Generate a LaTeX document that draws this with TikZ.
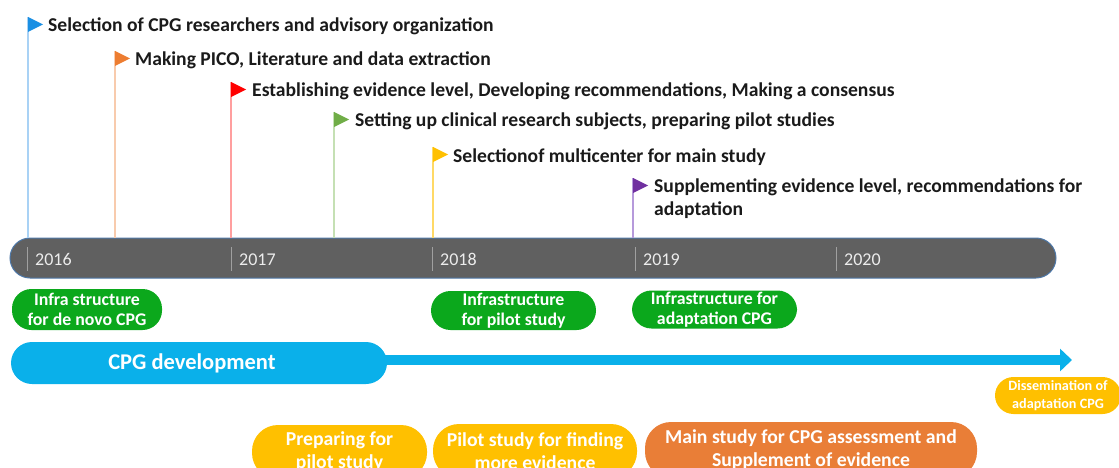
\documentclass[tikz,border=0pt]{standalone}
\usepackage{fontspec}
\setmainfont{Carlito}
\usetikzlibrary{arrows.meta}

\definecolor{ink}{HTML}{1A1A1A}
\definecolor{barfill}{HTML}{606060}
\definecolor{baredge}{HTML}{4E78A8}
\definecolor{tickgray}{HTML}{A0A0A0}
\definecolor{yeartext}{HTML}{ECECEC}
\definecolor{fblue}{HTML}{1A8FE3}
\definecolor{forange}{HTML}{ED7D31}
\definecolor{fred}{HTML}{FF0000}
\definecolor{fgreen}{HTML}{70AD47}
\definecolor{fyellow}{HTML}{FFC000}
\definecolor{fpurple}{HTML}{7030A0}
\definecolor{pblue}{HTML}{A9D2F5}
\definecolor{porange}{HTML}{F8CBAD}
\definecolor{pred}{HTML}{FF9F9F}
\definecolor{pgreen}{HTML}{C5E0B4}
\definecolor{pyellow}{HTML}{FFD966}
\definecolor{ppurple}{HTML}{B69ADB}
\definecolor{boxgreen}{HTML}{0BA81C}
\definecolor{cpgblue}{HTML}{0AB0EA}
\definecolor{boxorange}{HTML}{E97E37}

\begin{document}
\begin{tikzpicture}[x=1pt,y=-1pt,
  flagtext/.style={anchor=base west, inner sep=0pt, text=ink,
    font=\bfseries\fontsize{19.6}{22}\selectfont},
  pole/.style={line width=1.2pt},
  tick/.style={draw=tickgray, line width=0.9pt},
  yearlabel/.style={anchor=base west, inner sep=0pt, text=yeartext,
    font=\fontsize{18}{22}\selectfont},
  pill/.style={rounded corners=#1, align=center, text=white, inner sep=0pt},
  pill/.default=20pt,
  smallpill/.style={pill=19.5pt, font=\bfseries\fontsize{17.8}{19.5}\selectfont},
  bigpill/.style={pill=26pt, font=\bfseries\fontsize{19.7}{23}\selectfont}]

\useasboundingbox (0,0) rectangle (1119,468);
\clip (0,0) rectangle (1119,468);

% year bar
\node[pill, fill=barfill, draw=baredge, line width=1pt,
      minimum width=1046, minimum height=40] (bar) at (533,258) {};

\foreach \x/\yr in {27/2016, 231/2017, 432/2018, 635/2019, 836/2020}{
  \coordinate (t\yr) at (\x,247);
  \draw[tick] (t\yr) -- ++(0,24);
  \node[yearlabel] (y\yr) at (\x+8,265) {\yr};
}

% milestone flags: pole, pennant, caption
\foreach \name/\x/\b/\fc/\pc in {
    fa/28/32/fblue/pblue, fb/115/66/forange/porange, fc/231/97/fred/pred,
    fd/334/127/fgreen/pgreen, fe/433/162/fyellow/pyellow, ff/633/193/fpurple/ppurple}{
  \coordinate (\name) at (\x,\b-15);
  \draw[pole, draw=\pc] (\name) -- (\name |- bar.north);
  \fill[\fc] (\name) -- ++(15,7.5) -- ++(-15,7.5) -- cycle;
}

\node[flagtext] (ta) at (48,32) {Selection of CPG researchers and advisory organization};
\node[flagtext] (tb) at (135,66) {Making PICO, Literature and data extraction};
\node[flagtext] (tc) at (252,97) {Establishing evidence level, Developing recommendations, Making a consensus};
\node[flagtext] (td) at (355,127) {Setting up clinical research subjects, preparing pilot studies};
\node[flagtext] (te) at (453,162) {Selectionof multicenter for main study};
\node[flagtext] (tf) at (654,193) {Supplementing evidence level, recommendations for};
\node[flagtext] (tg) at (654,215) {adaptation};

% infrastructure phases
\node[smallpill, fill=boxgreen, minimum width=150, minimum height=41] (inf1) at (87,309.5)
  {Infra structure\\for de novo CPG};
\node[smallpill, fill=boxgreen, minimum width=165, minimum height=39] (inf2) at (513.5,310.5)
  {Infrastructure\\for pilot study};
\node[smallpill, fill=boxgreen, minimum width=165, minimum height=38] (inf3) at (714.5,309.5)
  {Infrastructure for\\adaptation CPG};

% development arrow
\node[pill=21pt, fill=cpgblue, minimum width=376, minimum height=42,
      font=\bfseries\fontsize{22.5}{26}\selectfont] (cpg) at (199,363)
  {CPG development\hspace*{14pt}};
\coordinate (cpgend) at (1072,360);
\draw[cpgblue, line width=10pt, -{Triangle[length=12pt,width=22pt]}]
  ([xshift=-4pt,yshift=3pt]cpg.east) -- (cpgend);

\node[pill=18.5pt, fill=fyellow, minimum width=126, minimum height=37,
      font=\bfseries\fontsize{14.2}{18}\selectfont] (diss) at (1058,395.5)
  {Dissemination of\\adaptation CPG};

% studies
\node[bigpill, fill=fyellow, minimum width=175, minimum height=54] (prep) at (339.5,452)
  {Preparing for\\pilot study};
\node[bigpill, fill=fyellow, minimum width=204, minimum height=54] (pilot) at (535,451)
  {Pilot study for finding\\more evidence};
\node[bigpill, fill=boxorange, minimum width=332, minimum height=56] (main) at (811,450)
  {Main study for CPG assessment and\\Supplement of evidence};

\end{tikzpicture}
\end{document}
